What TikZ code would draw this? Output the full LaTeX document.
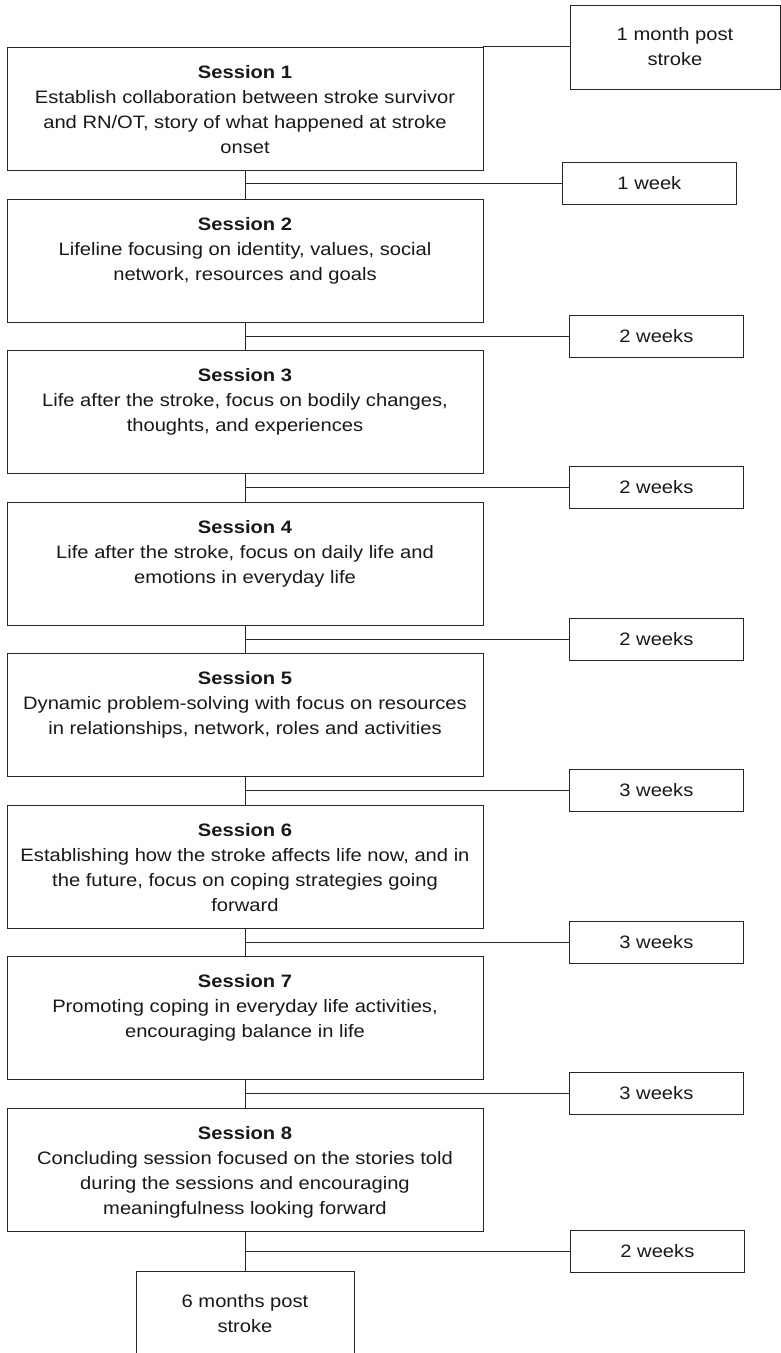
\documentclass[tikz,border=0pt]{standalone}
\usepackage{fontspec}
\setmainfont{Liberation Sans}[FakeStretch=1.12]
\usetikzlibrary{calc}

\newcommand{\sessiontext}[2]{\parbox[t][123pt][t]{470pt}{\centering\vspace*{18.7pt}\textbf{Session #1}\\#2}}

\tikzset{
  every node/.style={font=\fontsize{18}{25}\selectfont, text=black!90},
  sessbox/.style={draw, inner sep=0pt, minimum width=476pt, minimum height=123pt},
  weekbox/.style={draw, anchor=west, minimum width=174pt, minimum height=42pt},
  postbox/.style={draw, align=center, minimum height=84pt},
  link/.style={draw=black!85, line width=0.8pt}
}

\begin{document}
\begin{tikzpicture}[x=1pt, y=-1pt, line width=0.8pt, draw=black!85]
\useasboundingbox[fill=white] (0,0) rectangle (781,1353);

% sessions
\node[sessbox] (s1) at (245, 108.5) {\sessiontext{1}{Establish collaboration between stroke survivor\\and RN/OT, story of what happened at stroke\\onset}};
\node[sessbox] (s2) at (245, 260.5) {\sessiontext{2}{Lifeline focusing on identity, values, social\\network, resources and goals}};
\node[sessbox] (s3) at (245, 411.5) {\sessiontext{3}{Life after the stroke, focus on bodily changes,\\thoughts, and experiences}};
\node[sessbox] (s4) at (245, 563.5) {\sessiontext{4}{Life after the stroke, focus on daily life and\\emotions in everyday life}};
\node[sessbox] (s5) at (245, 714.5) {\sessiontext{5}{Dynamic problem-solving with focus on resources\\in relationships, network, roles and activities}};
\node[sessbox] (s6) at (245, 866.5) {\sessiontext{6}{Establishing how the stroke affects life now, and in\\the future, focus on coping strategies going\\forward}};
\node[sessbox] (s7) at (245, 1017.5) {\sessiontext{7}{Promoting coping in everyday life activities,\\encouraging balance in life}};
\node[sessbox] (s8) at (245, 1169.5) {\sessiontext{8}{Concluding session focused on the stories told\\during the sessions and encouraging\\meaningfulness looking forward}};

% start and end
\node[postbox, minimum width=210pt] (start) at (675, 47) {\raisebox{-3pt}{1 month post}\\\raisebox{-3pt}{stroke}};
\node[postbox, minimum width=218pt, anchor=north] (end) at (245, 1271) {6 months post\\stroke};

% junctions between sessions
\coordinate (j1) at ($(s1.south)!0.45!(s2.north)$);
\coordinate (j2) at ($(s2.south)!0.5!(s3.north)$);
\coordinate (j3) at ($(s3.south)!0.5!(s4.north)$);
\coordinate (j4) at ($(s4.south)!0.5!(s5.north)$);
\coordinate (j5) at ($(s5.south)!0.5!(s6.north)$);
\coordinate (j6) at ($(s6.south)!0.5!(s7.north)$);
\coordinate (j7) at ($(s7.south)!0.5!(s8.north)$);
\coordinate (j8) at ($(s8.south)!0.5!(end.north)$);

% time between sessions
\node[weekbox] (w1) at (562, 0 |- j1) {1 week};
\node[weekbox] (w2) at (569, 0 |- j2) {2 weeks};
\node[weekbox] (w3) at (569, 0 |- j3) {2 weeks};
\node[weekbox] (w4) at (569, 0 |- j4) {2 weeks};
\node[weekbox] (w5) at (569, 0 |- j5) {3 weeks};
\node[weekbox] (w6) at (569, 0 |- j6) {3 weeks};
\node[weekbox] (w7) at (569, 0 |- j7) {3 weeks};
\node[weekbox] (w8) at (570, 0 |- j8) {2 weeks};

\path[link] (s1.north east) -- (s1.north east -| start.west);
\path[link] (s1) -- (s2) (s2) -- (s3) (s3) -- (s4) (s4) -- (s5)
  (s5) -- (s6) (s6) -- (s7) (s7) -- (s8) (s8) -- (end);
\path[link] (j1) -- (w1) (j2) -- (w2) (j3) -- (w3) (j4) -- (w4)
  (j5) -- (w5) (j6) -- (w6) (j7) -- (w7) (j8) -- (w8);
\end{tikzpicture}
\end{document}
